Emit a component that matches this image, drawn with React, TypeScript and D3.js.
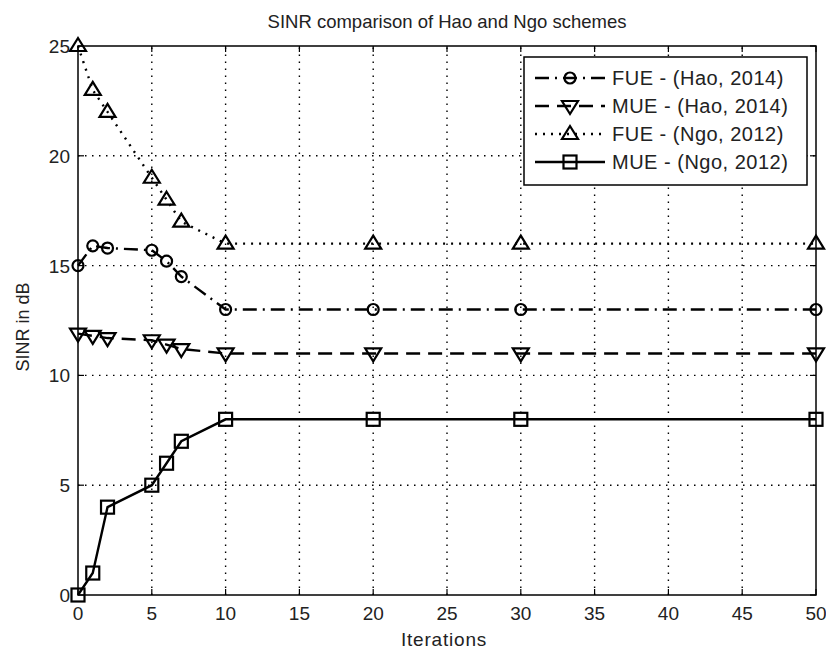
import { useEffect, useRef } from 'react';
import * as d3 from 'd3';

const iterations = [0, 1, 2, 5, 6, 7, 10, 20, 30, 50];
const fueHao = [15, 15.9, 15.8, 15.7, 15.2, 14.5, 13, 13, 13, 13];
const mueHao = [11.9, 11.8, 11.7, 11.6, 11.4, 11.2, 11, 11, 11, 11];
const fueNgo = [25, 23, 22, 19, 18, 17, 16, 16, 16, 16];
const mueNgo = [0, 1, 4, 5, 6, 7, 8, 8, 8, 8];

const xTicks = [0, 5, 10, 15, 20, 25, 30, 35, 40, 45, 50];
const yTicks = [0, 5, 10, 15, 20, 25];

const seriesNames = ['FUE - (Hao, 2014)', 'MUE - (Hao, 2014)', 'FUE - (Ngo, 2012)', 'MUE - (Ngo, 2012)'];

type Marker = 'circle' | 'down' | 'up' | 'square';

export default function App() {
  const ref = useRef<SVGSVGElement>(null);

  useEffect(() => {
    if (!ref.current) return;
    const width = 826;
    const height = 650;
    const m = { left: 78, right: 10, top: 46, bottom: 55 };
    const font = 'Liberation Sans, Arial, sans-serif';
    const svg = d3.select(ref.current);
    svg.selectAll('*').remove();

    const x = d3.scaleLinear().domain([0, 50]).range([m.left, width - m.right]);
    const y = d3.scaleLinear().domain([0, 25]).range([height - m.bottom, m.top]);

    svg.append('rect').attr('width', width).attr('height', height).attr('fill', '#fff');

    const g = svg.append('g');

    // dotted grid
    xTicks.slice(1, -1).forEach((t) => {
      g.append('line')
        .attr('x1', x(t)).attr('x2', x(t))
        .attr('y1', y(0)).attr('y2', y(25))
        .attr('stroke', '#000').attr('stroke-width', 1.4)
        .attr('stroke-dasharray', '1.5,5.5');
    });
    yTicks.slice(1, -1).forEach((t) => {
      g.append('line')
        .attr('x1', x(0)).attr('x2', x(50))
        .attr('y1', y(t)).attr('y2', y(t))
        .attr('stroke', '#000').attr('stroke-width', 1.4)
        .attr('stroke-dasharray', '1.5,5.5');
    });

    // box + inward ticks
    g.append('rect')
      .attr('x', x(0)).attr('y', y(25))
      .attr('width', x(50) - x(0)).attr('height', y(0) - y(25))
      .attr('fill', 'none').attr('stroke', '#000').attr('stroke-width', 1.5);

    const tl = 6;
    xTicks.forEach((t) => {
      g.append('line').attr('x1', x(t)).attr('x2', x(t)).attr('y1', y(0)).attr('y2', y(0) - tl).attr('stroke', '#000').attr('stroke-width', 1.2);
      g.append('line').attr('x1', x(t)).attr('x2', x(t)).attr('y1', y(25)).attr('y2', y(25) + tl).attr('stroke', '#000').attr('stroke-width', 1.2);
      g.append('text')
        .attr('x', x(t)).attr('y', y(0) + 25)
        .attr('text-anchor', 'middle')
        .attr('font-family', font).attr('font-size', 19)
        .attr('fill', '#222')
        .text(t);
    });
    yTicks.forEach((t) => {
      g.append('line').attr('x1', x(0)).attr('x2', x(0) + tl).attr('y1', y(t)).attr('y2', y(t)).attr('stroke', '#000').attr('stroke-width', 1.2);
      g.append('line').attr('x1', x(50)).attr('x2', x(50) - tl).attr('y1', y(t)).attr('y2', y(t)).attr('stroke', '#000').attr('stroke-width', 1.2);
      g.append('text')
        .attr('x', x(0) - 8).attr('y', y(t) + 7)
        .attr('text-anchor', 'end')
        .attr('font-family', font).attr('font-size', 19)
        .attr('fill', '#222')
        .text(t);
    });

    // title and axis labels
    svg.append('text').attr('x', 447).attr('y', 28).attr('text-anchor', 'middle')
      .attr('font-family', font).attr('font-size', 18.5).attr('fill', '#222')
      .text('SINR comparison of Hao and Ngo schemes');
    svg.append('text').attr('x', 444).attr('y', 646).attr('text-anchor', 'middle')
      .attr('font-family', font).attr('font-size', 19).attr('letter-spacing', 0.8).attr('fill', '#222')
      .text('Iterations');
    svg.append('text').attr('transform', `translate(29,327) rotate(-90)`).attr('text-anchor', 'middle')
      .attr('font-family', font).attr('font-size', 18).attr('fill', '#222')
      .text('SINR in dB');

    const dashes = ['14,6,2,6', '14,8', '2,6', null];
    const markers: Marker[] = ['circle', 'down', 'up', 'square'];
    const all = [fueHao, mueHao, fueNgo, mueNgo];

    const drawMarker = (sel: d3.Selection<SVGGElement, unknown, null, undefined>, mk: Marker, cx: number, cy: number) => {
      const st = (s: d3.Selection<any, unknown, null, undefined>) =>
        s.attr('fill', 'none').attr('stroke', '#000').attr('stroke-width', 2.2);
      if (mk === 'circle') st(sel.append('circle').attr('cx', cx).attr('cy', cy).attr('r', 5.5));
      if (mk === 'square') st(sel.append('rect').attr('x', cx - 6.5).attr('y', cy - 6.5).attr('width', 13).attr('height', 13));
      if (mk === 'up') st(sel.append('path').attr('d', `M${cx},${cy - 8}L${cx + 8},${cy + 5}L${cx - 8},${cy + 5}Z`));
      if (mk === 'down') st(sel.append('path').attr('d', `M${cx},${cy + 8}L${cx + 8},${cy - 5}L${cx - 8},${cy - 5}Z`));
    };

    all.forEach((vals, i) => {
      const pts = iterations.map((it, j) => [it, vals[j]] as [number, number]);
      const line = d3.line<[number, number]>().x((d) => x(d[0])).y((d) => y(d[1]));
      const p = g.append('path').datum(pts).attr('d', line)
        .attr('fill', 'none').attr('stroke', '#000').attr('stroke-width', 2.4);
      if (dashes[i]) p.attr('stroke-dasharray', dashes[i]!);
      const mg = g.append('g');
      pts.forEach((d) => drawMarker(mg, markers[i], x(d[0]), y(d[1])));
    });

    // legend
    const lg = svg.append('g');
    lg.append('rect').attr('x', 524).attr('y', 57).attr('width', 283).attr('height', 128)
      .attr('fill', '#fff').attr('stroke', '#000').attr('stroke-width', 1.5);
    seriesNames.forEach((name, i) => {
      const ly = 78 + i * 28;
      const l = lg.append('line').attr('x1', 535).attr('x2', 605).attr('y1', ly).attr('y2', ly)
        .attr('stroke', '#000').attr('stroke-width', 2.4);
      if (dashes[i]) l.attr('stroke-dasharray', dashes[i]!);
      drawMarker(lg, markers[i], 570, ly);
      lg.append('text').attr('x', 612).attr('y', ly + 7)
        .attr('font-family', font).attr('font-size', 20).attr('letter-spacing', 0.5).attr('fill', '#222')
        .text(name);
    });
  }, []);

  return <svg ref={ref} width={826} height={650} style={{ position: 'absolute', left: 0, top: 0 }} />;
}
